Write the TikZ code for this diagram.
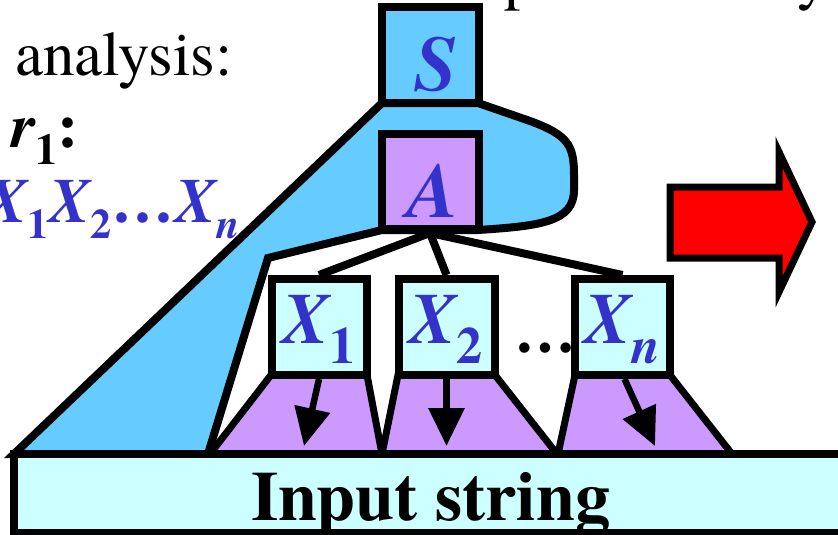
\documentclass[tikz,border=0pt]{standalone}
\usepackage{fontspec}
\setmainfont{texgyretermes}[Extension=.otf, UprightFont=*-regular, BoldFont=*-bold, ItalicFont=*-italic, BoldItalicFont=*-bolditalic]
\usetikzlibrary{arrows.meta,backgrounds}
\newcommand\fsz[1]{\fontsize{#1}{#1}\selectfont}
\newcommand\lowsub[3]{\raisebox{-#1pt}{\fsz{#2}#3}}
\definecolor{skyb}{HTML}{66CCFF}
\definecolor{lilac}{HTML}{CC99FF}
\definecolor{paleC}{HTML}{CCFFFF}
\definecolor{inkb}{HTML}{3333CC}
\begin{document}
\begin{tikzpicture}[x=1pt,y=-1pt,
  box/.style={draw=black, line width=8pt, minimum width=96pt, minimum height=96pt, inner sep=0pt},
  lbl/.style={inner sep=0pt, anchor=base, text=inkb, font=\bfseries\itshape\fsz{78}},
  xlbl/.style={inner sep=0pt, anchor=base west, text=inkb, font=\bfseries\itshape\fsz{72}},
  plain/.style={inner sep=0pt, anchor=base west},
  treeedge/.style={line width=8pt},
  dnarrow/.style={line width=6.5pt, -{Triangle[length=38pt,width=35pt]}},
  region/.style={line width=8pt, line join=miter},
  trap/.style={draw, fill=lilac, line width=7pt}
]
\useasboundingbox (0,0) rectangle (838,535);
\clip (0,0) rectangle (838,535);

% blue derivation region
\draw[region, fill=skyb] (14,454) -- (382,103) -- (478,103) -- (530,121)
  .. controls (568,135) and (574,145) .. (574,175) -- (574,190)
  .. controls (574,222) and (540,226) .. (478,230) -- (382,230)
  -- (268,258) -- (208,454) -- cycle;

% purple sub-trees
\draw[trap] (271,375) -- (367,375) -- (382,454) -- (210,454) -- cycle;
\draw[trap] (398,375) -- (495,375) -- (557,454) -- (382,454) -- cycle;
\draw[trap] (575,375) -- (670,375) -- (732,454) -- (558,454) -- cycle;

% input string
\node[box, fill=paleC, minimum width=832pt, minimum height=79pt] (input) at (430,493.5) {};
\node[inner sep=0pt, anchor=base, font=\bfseries\fsz{70}] (inputtxt) at (431,520) {Input string};

% boxes
\node[box, fill=skyb, minimum width=97pt, minimum height=95pt] (S) at (430,55) {};
\node[box, fill=lilac, minimum width=97pt, minimum height=95pt] (A) at (430,181.5) {};
\node[box, fill=paleC, minimum width=95pt] (X1) at (319,327) {};
\node[box, fill=paleC, minimum width=96pt] (X2) at (446.5,327) {};
\node[box, fill=paleC, minimum width=95pt] (Xn) at (622.5,327) {};

\node[lbl] (Slbl) at (436,90) {S};
\node[lbl] (Albl) at (434,217) {A};
\node[xlbl] (X1lbl) at (281,343) {X\lowsub{20}{52}{\upshape 1}};
\node[xlbl] (X2lbl) at (408,343) {X\lowsub{20}{52}{\upshape 2}};
\node[xlbl] (Xnlbl) at (583,343) {X\lowsub{20}{52}{n}};
\node[plain, font=\bfseries\fsz{62}] (dots) at (514,352) {…};

% tree edges
\begin{scope}[on background layer]
\draw[treeedge] (A.south) -- (X1.north);
\draw[treeedge] (A.south) -- (X2.north);
\draw[treeedge] (A.south) -- (Xn.north);
\end{scope}

% arrows inside sub-trees
\coordinate (t1) at (304,446);
\coordinate (t2) at (446.5,446);
\coordinate (tn) at (655,446);
\draw[dnarrow] (X1.south) -- (t1);
\draw[dnarrow] (X2.south) -- (t2);
\draw[dnarrow] ([xshift=2pt]Xn.south) -- (tn);

% red arrow
\draw[fill=red, line width=7pt] (670,187) -- (779,187) -- (779,152) -- (812,222)
  -- (779,292) -- (779,258) -- (670,258) -- cycle;

% left texts
\node[plain, font=\fsz{63}] (analysis) at (15,75) {analysis:};
\node[plain, font=\bfseries\fsz{63}] (rule) at (11,147) {\itshape r\lowsub{17}{44}{\upshape 1}\upshape :};
\node[plain, text=inkb, font=\bfseries\itshape\fsz{63}] (rhs) at (-15,222)
  {X\lowsub{16}{42}{\upshape 1}X\lowsub{16}{42}{\upshape 2}{\upshape …}X\lowsub{16}{42}{n}};

% descenders of the line above
\node[plain, font=\fsz{63}] (ptop) at (504,-2) {p};
\node[plain, font=\fsz{63}] (ytop) at (797,-2) {y};
\end{tikzpicture}
\end{document}
